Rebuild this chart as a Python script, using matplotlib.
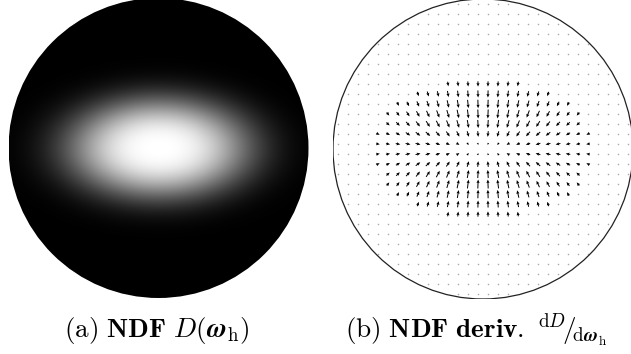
import numpy as np
import matplotlib
matplotlib.use('Agg')
import matplotlib.pyplot as plt
from matplotlib.patches import Circle

plt.rcParams['mathtext.fontset'] = 'cm'

# NDF lobe parameters (disk radius = 1)
sigma_x = 0.44           # lobe width along x
sigma_y = 0.24           # lobe width along y
tone_half = 1.2          # panel (a): lobe radius (in sigmas) shown as mid-grey
tone_power = 2.8         # panel (a): steepness of the tone curve
grid_n = 30              # arrows per row / column
arrow_region = [0.745, 0.47]   # semi-axes of the region holding arrows
max_arrow_len = 0.06     # longest arrow, in disk units

captions = [
    r"$\mathrm{(a)}\ \mathbf{NDF}\ D(\boldsymbol{\omega}_{\mathrm{h}})$",
    r"$\mathrm{(b)}\ \mathbf{NDF\ deriv.}\ {}^{\mathrm{d}D}\!/\!_{\mathrm{d}\boldsymbol{\omega}_{\mathrm{h}}}$",
]


def lobe_u2(x, y):
    return x**2 / sigma_x**2 + y**2 / sigma_y**2


def ndf(x, y):
    return np.exp(-0.5 * lobe_u2(x, y))


def ndf_grad(x, y):
    f = ndf(x, y)
    return -f * x / sigma_x**2, -f * y / sigma_y**2


def tone(d):
    u = np.sqrt(-2 * np.log(np.maximum(d, 1e-300)))
    return np.exp(-np.log(2) * (u / tone_half) ** tone_power)


fig = plt.figure(figsize=(6.31, 3.54), dpi=100)
fig.patch.set_facecolor('white')

W, H = 631, 354


def make_axes(cx, cy, r=150):
    ax = fig.add_axes([(cx - r) / W, (H - (cy + r)) / H, 2 * r / W, 2 * r / H])
    ax.set_xlim(-1, 1)
    ax.set_ylim(-1, 1)
    ax.set_aspect('equal')
    ax.axis('off')
    return ax

# (a) image of the NDF
ax1 = make_axes(158.5, 148)
n = 600
g = np.linspace(-1, 1, n)
XX, YY = np.meshgrid(g, g)
img = tone(ndf(XX, YY))
im = ax1.imshow(img, extent=(-1, 1, -1, 1), origin='lower', cmap='gray',
                vmin=0, vmax=1, interpolation='bilinear')
clip = Circle((0, 0), 1.0, transform=ax1.transData)
im.set_clip_path(clip)

# (b) gradient field
ax2 = make_axes(483, 149)
c = np.linspace(-1 + 1 / grid_n, 1 - 1 / grid_n, grid_n)
X, Y = np.meshgrid(c, c)
inside = X**2 + Y**2 < 0.985
X, Y = X[inside], Y[inside]
U, V = ndf_grad(X, Y)
mag = np.hypot(U, V)
scale = mag.max() / max_arrow_len
sel = (X / arrow_region[0])**2 + (Y / arrow_region[1])**2 < 1
ax2.scatter(X[~sel], Y[~sel], s=1.3, c='#aaaaaa', marker='o', linewidths=0, zorder=1)
ax2.quiver(X[sel], Y[sel], U[sel], V[sel], angles='xy', scale_units='xy',
           scale=scale, width=0.0033, headwidth=3.2, headlength=3.6,
           headaxislength=3.2, minlength=0.8, color='black', pivot='middle',
           zorder=2)
ax2.add_patch(Circle((0, 0), 1.0, fill=False, ec='#222222', lw=0.9, zorder=3))

fig.text(157 / W, 1 - 330 / H, captions[0], ha='center', va='center', fontsize=19.5)
fig.text(345 / W, 1 - 330 / H, captions[1], ha='left', va='center', fontsize=19.5)

fig.savefig('out.png', dpi=100, facecolor='white')
